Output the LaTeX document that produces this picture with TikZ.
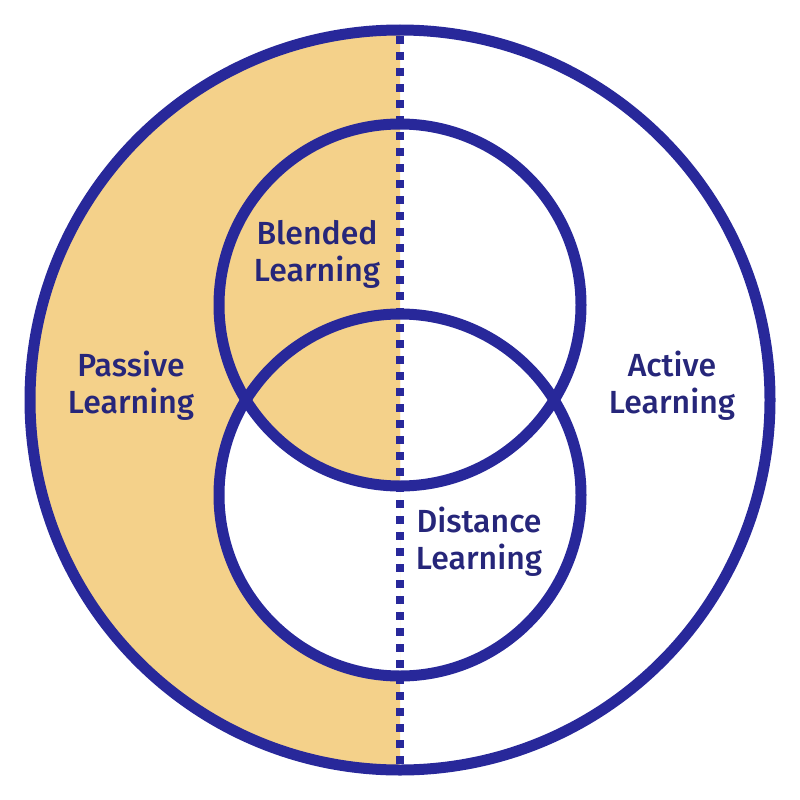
\documentclass[tikz,border=0pt]{standalone}
\usepackage{fontspec}
\setmainfont{Fira Sans}[UprightFont={* Medium}]
\definecolor{navy}{HTML}{28289A}
\definecolor{txt}{HTML}{26267A}
\definecolor{tan}{HTML}{F4D18A}
\begin{document}
\begin{tikzpicture}[x=1pt,y=-1pt,
  ring/.style={draw=navy,line width=11pt},
  lbl/.style={text=txt,align=center,inner sep=0pt,font=\fontsize{32}{37}\selectfont}]
\useasboundingbox (0,0) rectangle (800,800);
\fill[white] (0,0) rectangle (800,800);
\begin{scope}
  \clip (0,0) rectangle (400,800);
  \fill[tan] (400,400) circle (370);
  \fill[white] (400,495) circle (181);
  \clip (400,495) circle (181);
  \fill[tan] (400,305) circle (181);
\end{scope}
\coordinate (top) at (400,36);
\coordinate (bot) at (400,764);
\draw[navy,line width=8pt,dash pattern=on 8pt off 8pt] (top) -- (bot);
\draw[ring] (400,400) circle (370);
\draw[ring] (400,305) circle (181);
\draw[ring] (400,495) circle (181);
\node[lbl] (blended) at (317,254) {Blended\\Learning};
\node[lbl] (passive) at (131,386) {Passive\\Learning};
\node[lbl] (active) at (672,386) {Active\\Learning};
\node[lbl] (distance) at (479,542) {Distance\\Learning};
\end{tikzpicture}
\end{document}
